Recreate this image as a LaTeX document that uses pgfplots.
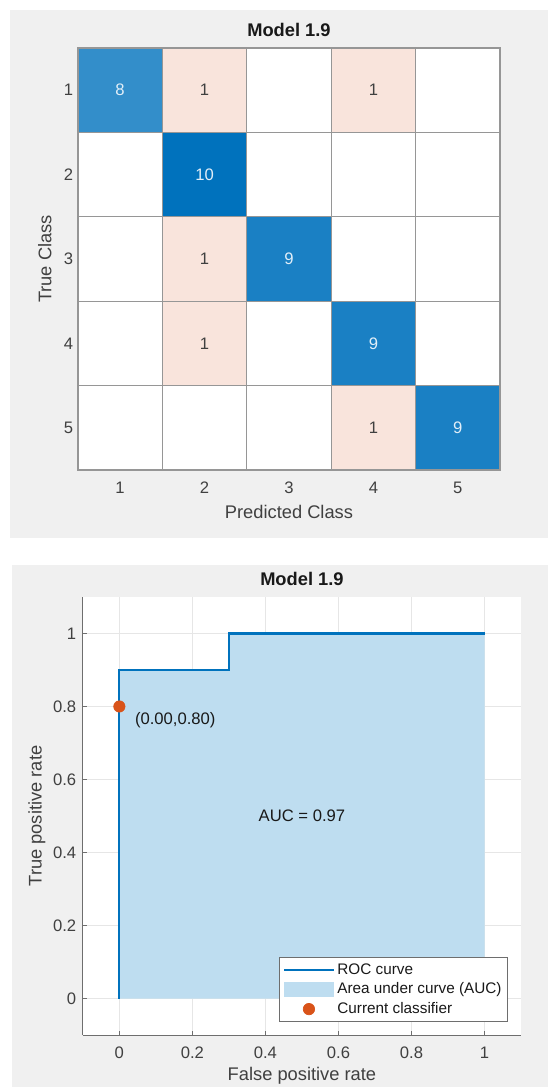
\documentclass[border=0pt]{standalone}
\usepackage{fontspec}
\setmainfont{Liberation Sans}
\usepackage{pgfplots}
\pgfplotsset{compat=1.18}
\usepackage{pgfplotstable}
\definecolor{panel}{RGB}{240,240,240}
\definecolor{txt}{RGB}{64,64,64}
\definecolor{ttl}{RGB}{25,25,25}
\definecolor{cellline}{RGB}{150,150,150}
\definecolor{rocblue}{RGB}{0,114,189}
\definecolor{aucblue}{RGB}{190,221,240}
\definecolor{dotorange}{RGB}{217,83,25}
\definecolor{gridc}{RGB}{230,230,230}
\definecolor{axc}{RGB}{110,110,110}
\definecolor{celltxt}{RGB}{225,238,248}

% confusion matrix: true class y, predicted class x, count c
\pgfplotstableread{
x y c
1 1 8
2 1 1
3 1 0
4 1 1
5 1 0
1 2 0
2 2 10
3 2 0
4 2 0
5 2 0
1 3 0
2 3 1
3 3 9
4 3 0
5 3 0
1 4 0
2 4 1
3 4 0
4 4 9
5 4 0
1 5 0
2 5 0
3 5 0
4 5 1
5 5 9
}\cmdata

\newcommand{\fs}{\fontsize{12.5}{15}\selectfont}
\newcommand{\fl}{\fontsize{13.75}{16}\selectfont}

\begin{document}
\begin{tikzpicture}
\fill[white] (0,0) rectangle (411.75pt,-816.75pt);
\fill[panel] (7.5pt,-7.5pt) rectangle (411.75pt,-404.25pt);
\fill[panel] (9pt,-424.5pt) rectangle (411.75pt,-816.75pt);

% ---------------- Confusion matrix ----------------
\begin{axis}[
  at={(58.5pt,-353.25pt)}, anchor=south west,
  width=317.25pt, height=317.25pt, scale only axis,
  xmin=0.5, xmax=5.5, ymin=0.5, ymax=5.5, y dir=reverse,
  enlargelimits=false,
  xtick={1,2,3,4,5}, ytick={1,2,3,4,5},
  minor xtick={1.5,2.5,3.5,4.5}, minor ytick={1.5,2.5,3.5,4.5},
  xminorgrids, yminorgrids,
  minor grid style={cellline, line width=0.6pt},
  axis line style={cellline, line width=1pt},
  major tick length=0pt, minor tick length=0pt,
  axis on top,
  /pgf/number format/assume math mode=true,
  tick label style={font=\fs, text=txt},
  xticklabel style={anchor=center, yshift=-13.5pt},
  xlabel={Predicted Class}, ylabel={True Class},
  label style={font=\fl, text=txt},
  xlabel style={at={(axis description cs:0.5,-0.099)}, anchor=center},
  ylabel style={at={(axis description cs:-0.078,0.5)}, anchor=center},
  title={Model 1.9},
  title style={font=\bfseries\fl, text=ttl, at={(axis description cs:0.5,1)}, anchor=south, yshift=1pt, inner sep=1pt},
  colormap={cm}{rgb255(0cm)=(249,228,220) rgb255(1cm)=(255,255,255) rgb255(11cm)=(0,114,189)},
  point meta min=-1, point meta max=10,
]
\addplot[matrix plot*, mesh/cols=5, point meta=explicit]
  table[x=x, y=y, meta expr={ifthenelse(\thisrow{x}==\thisrow{y},\thisrow{c},-\thisrow{c})}] {\cmdata};
\addplot[draw=none, nodes near coords, point meta=explicit symbolic,
  every node near coord/.style={anchor=center, text=celltxt, font=\fs}]
  coordinates {(1,1) [8] (2,2) [10] (3,3) [9] (4,4) [9] (5,5) [9]};
\addplot[draw=none, nodes near coords, point meta=explicit symbolic,
  every node near coord/.style={anchor=center, text=txt, font=\fs}]
  coordinates {(2,1) [1] (4,1) [1] (2,3) [1] (2,4) [1] (4,5) [1]};
\end{axis}

% ---------------- ROC curve ----------------
\begin{axis}[
  at={(62.25pt,-777.75pt)}, anchor=south west,
  width=329.25pt, height=329.25pt, scale only axis,
  xmin=-0.1, xmax=1.1, ymin=-0.1, ymax=1.1,
  axis background/.style={fill=white},
  axis x line*=bottom, axis y line*=left,
  axis line style={axc, line width=0.6pt, -},
  xtick={0,0.2,0.4,0.6,0.8,1}, ytick={0,0.2,0.4,0.6,0.8,1},
  grid=major, grid style={gridc, line width=0.6pt},
  tick align=inside, major tick length=3pt, tick style={axc, line width=0.6pt},
  /pgf/number format/assume math mode=true,
  tick label style={font=\fs, text=txt},
  xticklabel style={anchor=center, yshift=-13.5pt},
  yticklabel style={xshift=-1.5pt},
  xlabel={False positive rate}, ylabel={True positive rate},
  label style={font=\fl, text=txt},
  xlabel style={at={(axis description cs:0.5,-0.0934)}, anchor=center},
  ylabel style={at={(axis description cs:-0.105,0.5)}, anchor=center},
  title={Model 1.9},
  title style={font=\bfseries\fl, text=ttl, at={(axis description cs:0.5,1)}, anchor=south, yshift=1pt, inner sep=1pt},
  legend style={at={(rel axis cs:0.97,0.03)}, anchor=south east, draw=axc, line width=0.5pt, fill=white,
    font=\fontsize{11.5}{13}\selectfont, text=ttl, cells={anchor=west}, inner sep=2.5pt, row sep=1pt},
]
\addplot[fill=aucblue, draw=none, forget plot] coordinates {(0,0) (0,0.9) (0.3,0.9) (0.3,1) (1,1)} \closedcycle;
\addplot[rocblue, line width=1.6pt,
  legend image code/.code={\draw[rocblue, line width=1.8pt] (0cm,0cm) -- (1.3cm,0cm);}]
  coordinates {(0,0) (0,0.9) (0.3,0.9) (0.3,1) (1,1)};
\addlegendentry{ROC curve}
\addlegendimage{legend image code/.code={\fill[aucblue] (0cm,-0.185cm) rectangle (1.3cm,0.185cm);}}
\addlegendentry{Area under curve (AUC)}
\addplot[only marks, mark=*, mark size=4.3pt, color=dotorange, mark options={draw=dotorange, fill=dotorange},
  legend image code/.code={\fill[dotorange] (0.65cm,0cm) circle (4.3pt);}]
  coordinates {(0,0.8)};
\addlegendentry{Current classifier}
\node[anchor=west, text=ttl, font=\fs] at (axis cs:0.03,0.762) {(0.00,0.80)};
\node[anchor=center, text=ttl, font=\fs] at (axis cs:0.5,0.5) {AUC = 0.97};
\end{axis}
\end{tikzpicture}
\end{document}
